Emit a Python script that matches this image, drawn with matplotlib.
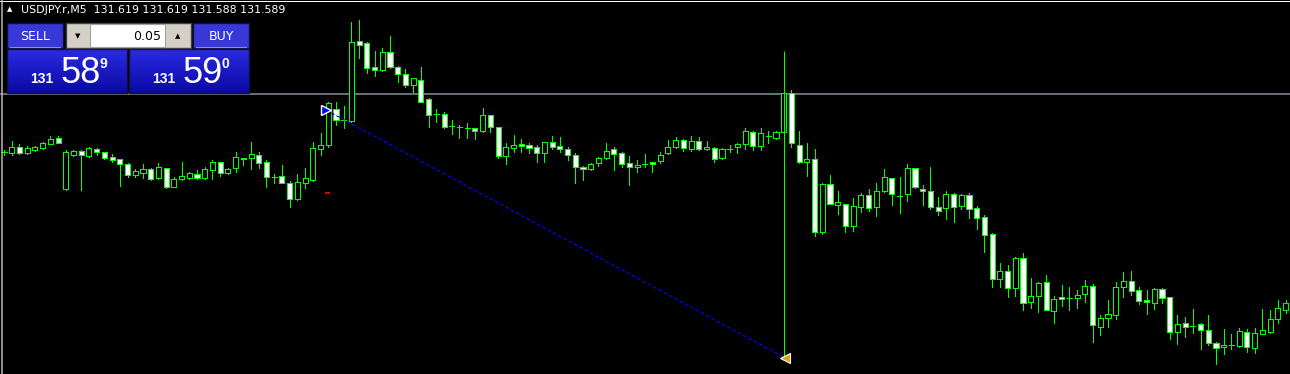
import numpy as np
import matplotlib
matplotlib.use("Agg")
from matplotlib import pyplot as plt
from matplotlib.patches import Rectangle

# USDJPY.r M5 candles (left -> right)
opens = [
    131.740, 131.739, 131.745, 131.739, 131.742, 131.744, 131.748, 131.754, 131.703, 131.737,
    131.741, 131.736, 131.743, 131.740, 131.735, 131.733, 131.728, 131.717, 131.719, 131.723,
    131.714, 131.724, 131.705, 131.713, 131.714, 131.718, 131.714, 131.722, 131.730, 131.719,
    131.724, 131.733, 131.734, 131.737, 131.730, 131.715, 131.716, 131.709, 131.693, 131.709,
    131.712, 131.743, 131.747, 131.783, 131.772, 131.771, 131.851, 131.849, 131.825, 131.822,
    131.840, 131.825, 131.818, 131.807, 131.812, 131.793, 131.778, 131.778, 131.766, 131.765,
    131.764, 131.764, 131.761, 131.777, 131.765, 131.736, 131.744, 131.748, 131.747, 131.745,
    131.739, 131.750, 131.746, 131.743, 131.737, 131.725, 131.723, 131.729, 131.734, 131.743,
    131.739, 131.729, 131.725, 131.728, 131.730, 131.731, 131.739, 131.745, 131.752, 131.743,
    131.751, 131.743, 131.744, 131.734, 131.743, 131.745, 131.748, 131.760, 131.746, 131.756,
    131.754, 131.760, 131.799, 131.747, 131.730, 131.733, 131.660, 131.708, 131.687, 131.688,
    131.666, 131.685, 131.697, 131.685, 131.701, 131.714, 131.696, 131.698, 131.724, 131.703,
    131.701, 131.685, 131.684, 131.698, 131.686, 131.697, 131.684, 131.675, 131.658, 131.613,
    131.621, 131.604, 131.634, 131.590, 131.596, 131.610, 131.581, 131.595, 131.594, 131.594,
    131.598, 131.606, 131.565, 131.574, 131.577, 131.605, 131.611, 131.602, 131.592, 131.589,
    131.603, 131.595, 131.560, 131.569, 131.566, 131.568, 131.562, 131.549, 131.545, 131.547,
    131.546, 131.560, 131.544, 131.558, 131.560, 131.573, 131.582,
]
highs = [
    131.742, 131.751, 131.748, 131.746, 131.746, 131.750, 131.756, 131.756, 131.742, 131.742,
    131.742, 131.745, 131.744, 131.740, 131.738, 131.733, 131.729, 131.723, 131.728, 131.724,
    131.729, 131.724, 131.715, 131.730, 131.720, 131.722, 131.725, 131.732, 131.730, 131.724,
    131.740, 131.734, 131.750, 131.740, 131.732, 131.718, 131.727, 131.711, 131.718, 131.724,
    131.750, 131.759, 131.790, 131.790, 131.786, 131.870, 131.872, 131.850, 131.841, 131.844,
    131.856, 131.826, 131.823, 131.814, 131.825, 131.794, 131.783, 131.780, 131.772, 131.767,
    131.769, 131.764, 131.784, 131.777, 131.765, 131.749, 131.757, 131.753, 131.749, 131.747,
    131.750, 131.756, 131.755, 131.745, 131.739, 131.726, 131.729, 131.735, 131.749, 131.745,
    131.740, 131.736, 131.732, 131.738, 131.730, 131.740, 131.752, 131.755, 131.753, 131.756,
    131.755, 131.751, 131.745, 131.744, 131.747, 131.749, 131.764, 131.761, 131.764, 131.761,
    131.761, 131.799, 131.802, 131.761, 131.749, 131.743, 131.709, 131.717, 131.701, 131.688,
    131.694, 131.699, 131.703, 131.709, 131.723, 131.714, 131.715, 131.728, 131.724, 131.707,
    131.725, 131.695, 131.701, 131.699, 131.698, 131.699, 131.686, 131.677, 131.659, 131.629,
    131.627, 131.635, 131.639, 131.614, 131.610, 131.617, 131.596, 131.607, 131.605, 131.602,
    131.612, 131.608, 131.577, 131.592, 131.610, 131.620, 131.621, 131.605, 131.602, 131.604,
    131.604, 131.595, 131.577, 131.575, 131.583, 131.569, 131.577, 131.550, 131.563, 131.558,
    131.564, 131.563, 131.564, 131.583, 131.582, 131.592, 131.592,
]
lows = [
    131.737, 131.737, 131.738, 131.738, 131.741, 131.743, 131.748, 131.749, 131.702, 131.736,
    131.702, 131.735, 131.737, 131.733, 131.730, 131.706, 131.715, 131.715, 131.714, 131.712,
    131.713, 131.704, 131.705, 131.712, 131.713, 131.713, 131.713, 131.713, 131.716, 131.718,
    131.720, 131.727, 131.723, 131.724, 131.705, 131.709, 131.709, 131.685, 131.692, 131.704,
    131.711, 131.737, 131.745, 131.767, 131.764, 131.770, 131.834, 131.819, 131.816, 131.821,
    131.824, 131.810, 131.805, 131.800, 131.790, 131.765, 131.770, 131.764, 131.758, 131.754,
    131.754, 131.753, 131.760, 131.760, 131.734, 131.728, 131.740, 131.740, 131.739, 131.730,
    131.730, 131.743, 131.740, 131.732, 131.709, 131.712, 131.722, 131.726, 131.733, 131.722,
    131.725, 131.707, 131.720, 131.725, 131.720, 131.729, 131.738, 131.744, 131.741, 131.741,
    131.742, 131.742, 131.730, 131.733, 131.740, 131.739, 131.743, 131.742, 131.742, 131.749,
    131.753, 131.760, 131.745, 131.729, 131.716, 131.656, 131.658, 131.688, 131.678, 131.660,
    131.661, 131.680, 131.681, 131.676, 131.700, 131.687, 131.679, 131.691, 131.704, 131.687,
    131.683, 131.677, 131.673, 131.670, 131.683, 131.674, 131.663, 131.640, 131.605, 131.605,
    131.595, 131.596, 131.582, 131.584, 131.580, 131.582, 131.569, 131.586, 131.582, 131.584,
    131.590, 131.550, 131.557, 131.565, 131.573, 131.595, 131.597, 131.588, 131.578, 131.583,
    131.589, 131.553, 131.548, 131.555, 131.559, 131.543, 131.547, 131.528, 131.538, 131.543,
    131.545, 131.540, 131.539, 131.558, 131.559, 131.569, 131.579,
]
closes = [
    131.740, 131.745, 131.739, 131.744, 131.745, 131.749, 131.753, 131.749, 131.740, 131.741,
    131.737, 131.744, 131.740, 131.734, 131.732, 131.728, 131.717, 131.721, 131.723, 131.713,
    131.725, 131.705, 131.713, 131.716, 131.719, 131.714, 131.723, 131.730, 131.719, 131.723,
    131.735, 131.734, 131.738, 131.729, 131.715, 131.715, 131.709, 131.693, 131.710, 131.714,
    131.744, 131.747, 131.789, 131.772, 131.772, 131.850, 131.847, 131.824, 131.822, 131.840,
    131.825, 131.818, 131.807, 131.814, 131.790, 131.777, 131.778, 131.765, 131.766, 131.765,
    131.764, 131.761, 131.777, 131.765, 131.736, 131.745, 131.747, 131.746, 131.744, 131.739,
    131.750, 131.745, 131.743, 131.737, 131.725, 131.723, 131.728, 131.734, 131.741, 131.738,
    131.728, 131.725, 131.727, 131.728, 131.728, 131.737, 131.745, 131.752, 131.744, 131.751,
    131.743, 131.745, 131.733, 131.743, 131.743, 131.748, 131.761, 131.746, 131.759, 131.756,
    131.760, 131.799, 131.749, 131.730, 131.733, 131.660, 131.708, 131.688, 131.690, 131.666,
    131.686, 131.697, 131.684, 131.701, 131.715, 131.698, 131.696, 131.724, 131.705, 131.701,
    131.685, 131.681, 131.698, 131.685, 131.697, 131.683, 131.674, 131.657, 131.613, 131.621,
    131.604, 131.634, 131.589, 131.596, 131.609, 131.582, 131.593, 131.593, 131.594, 131.597,
    131.606, 131.567, 131.574, 131.578, 131.605, 131.611, 131.601, 131.591, 131.590, 131.603,
    131.594, 131.560, 131.568, 131.565, 131.566, 131.562, 131.549, 131.544, 131.547, 131.547,
    131.561, 131.545, 131.559, 131.562, 131.573, 131.584, 131.589,
]

# chart objects (bar index, price)
hline_price = 131.798
vline_bar = 101
vline_top, vline_bottom = 131.841, 131.534
trend_start = (41.7, 131.782)
trend_end = (101.2, 131.534)
red_mark = (41.9, 131.699)

header = "USDJPY.r,M5  131.619 131.619 131.588 131.589"
lot = "0.05"

LIME = "#00ff00"
PX = 0.72  # one pixel in points at dpi 100


def main():
    fig = plt.figure(figsize=(12.9, 3.74), dpi=100, facecolor="black")
    ax = fig.add_axes([0, 0, 1, 1], facecolor="black")
    ax.set_xlim(-0.52, 166.58)
    ax.set_ylim(131.518, 131.892)
    ax.axis("off")

    o = np.array(opens); h = np.array(highs); l = np.array(lows); c = np.array(closes)
    x = np.arange(len(o))

    # horizontal line object
    ax.axhline(hline_price, color="#666d78", lw=2 * PX, zorder=1)

    # wicks
    ax.vlines(x, l, h, color=LIME, lw=PX, zorder=2, antialiased=False)
    # bodies: bull = black, bear = white
    bull = c >= o
    ax.bar(x, np.abs(c - o), bottom=np.minimum(o, c), width=0.66,
           color=np.where(bull, "black", "white"), edgecolor=LIME,
           linewidth=PX, zorder=3, antialiased=False)
    doji = np.abs(c - o) < 0.0005
    ax.hlines(o[doji], x[doji] - 0.33, x[doji] + 0.33, color=LIME, lw=PX,
              zorder=4, antialiased=False)

    # vertical line and dotted trend line
    ax.vlines(vline_bar, vline_bottom, vline_top, color=LIME, lw=PX, zorder=5)
    ax.plot([trend_start[0], trend_end[0]], [trend_start[1], trend_end[1]],
            color="#0000ff", lw=PX * 1.2, ls=(0, (3, 2)), zorder=5)
    ax.plot(*trend_start, marker=">", ms=7, color="#0000ff", mec="white", mew=1.0, zorder=6)
    ax.plot(*trend_end, marker="<", ms=7, color="#e8a020", mec="white", mew=0.8, zorder=6)
    ax.hlines(red_mark[1], red_mark[0] - 0.35, red_mark[0] + 0.35, color="#e00000",
              lw=2 * PX, zorder=6)

    # overlay in pixel coordinates for the header and trade panel
    ui = fig.add_axes([0, 0, 1, 1], facecolor="none")
    ui.set_xlim(0, 1290)
    ui.set_ylim(374, 0)
    ui.axis("off")

    ui.plot([0, 1290], [1, 1], color="white", lw=PX)
    ui.plot([2, 2], [0, 374], color="#bbbbbb", lw=1.5 * PX)
    ui.text(10, 9.5, "\u25b2", color="white", fontsize=5, ha="center", va="center")
    ui.text(21, 9.5, header, color="white", fontsize=7.9, ha="left", va="center",
            family="DejaVu Sans")

    grad = np.linspace(0, 1, 40)[:, None]
    top = np.array([0x2a, 0x2a, 0xe4]) / 255
    bot = np.array([0x0a, 0x0a, 0xa2]) / 255
    img = (top * (1 - grad[..., None]) + bot * grad[..., None])

    for x0, big, small, sup, lab in [(7, "58", "131", "9", "SELL"), (129, "59", "131", "0", "BUY")]:
        ui.imshow(img, extent=[x0, x0 + 120, 93, 49], aspect="auto", zorder=2)
        ui.add_patch(Rectangle((x0, 49), 120, 44, fill=False, ec="#101040", lw=1, zorder=3))
        lx = x0 if lab == "SELL" else x0 + 64
        ui.add_patch(Rectangle((lx, 23), 56, 25, fc="#3838d8", ec="#101040", lw=1, zorder=3))
        ui.plot([lx + 3, lx + 53], [46.5, 46.5], color="#8a8aff", lw=0.8, zorder=4)
        ui.text(lx + 28, 36, lab, color="white", fontsize=9, ha="center", va="center",
                family="DejaVu Sans", zorder=4)
        ui.text(x0 + 23, 83, small, color="white", fontsize=10, fontweight="bold",
                ha="left", va="baseline", family="Liberation Sans", zorder=4)
        ui.text(x0 + 54, 83, big, color="white", fontsize=26, ha="left", va="baseline",
                family="Liberation Sans", zorder=4)
        ui.text(x0 + 93, 57, sup, color="white", fontsize=10, fontweight="bold",
                ha="left", va="top", family="Liberation Sans", zorder=4)

    # lot size control
    ui.add_patch(Rectangle((66, 23), 125, 25, fc="#d4d0c8", ec="#404040", lw=1, zorder=3))
    ui.add_patch(Rectangle((90, 24), 75, 23, fc="white", ec="#a0a0a0", lw=0.8, zorder=4))
    ui.text(78, 36, "\u25bc", color="black", fontsize=5, ha="center", va="center", zorder=5)
    ui.text(178, 36, "\u25b2", color="black", fontsize=5, ha="center", va="center", zorder=5)
    ui.text(161, 36, lot, color="black", fontsize=9, ha="right", va="center",
            family="DejaVu Sans", zorder=5)

    fig.savefig("out.png", dpi=100, facecolor="black")


if __name__ == '__main__':
    main()
